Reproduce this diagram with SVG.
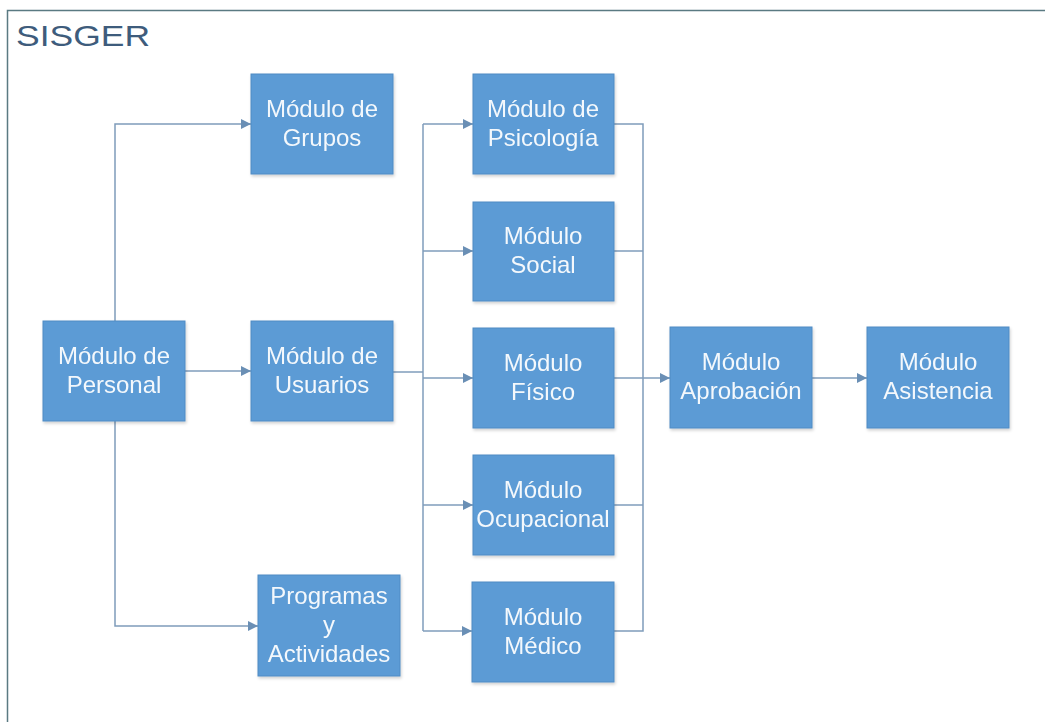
<svg xmlns="http://www.w3.org/2000/svg" width="1045" height="722" viewBox="0 0 1045 722">
<style>
.box{fill:#5b9bd5;stroke:#4f8bc4;stroke-width:1}
.lbl{font-family:"Liberation Sans",Arial,sans-serif;font-size:24px;fill:#f4f8fc;text-anchor:middle}
.ln{fill:none;stroke:#7f9cbb;stroke-width:1.5}
</style>
<defs>
<marker id="ah" viewBox="0 0 10 10" refX="10" refY="5" markerWidth="10" markerHeight="10" markerUnits="userSpaceOnUse" orient="auto">
<path d="M0,0 L10,5 L0,10 z" fill="#6a8fb5"/>
</marker>
<filter id="sh" x="-10%" y="-10%" width="130%" height="130%">
<feDropShadow dx="1" dy="2" stdDeviation="1.5" flood-color="#000" flood-opacity="0.18"/>
</filter>
</defs>
<rect width="1045" height="722" fill="#ffffff"/>
<path d="M7.5,722 V10.5 H1045" fill="none" stroke="#5a7a82" stroke-width="1.5"/>
<text x="16" y="46" font-family="'Liberation Sans',Arial,sans-serif" font-size="30" fill="#3e5c7c" textLength="134" lengthAdjust="spacingAndGlyphs">SISGER</text>
<g id="connectors">
<path class="ln" d="M115,321 V124 H251" marker-end="url(#ah)"/>
<path class="ln" d="M115,421 V626 H258" marker-end="url(#ah)"/>
<path class="ln" d="M185,371 H251" marker-end="url(#ah)"/>
<path class="ln" d="M393,372 H423"/>
<path class="ln" d="M423,124 V631"/>
<path class="ln" d="M423,124 H473" marker-end="url(#ah)"/>
<path class="ln" d="M423,251 H473" marker-end="url(#ah)"/>
<path class="ln" d="M423,378 H473" marker-end="url(#ah)"/>
<path class="ln" d="M423,505 H473" marker-end="url(#ah)"/>
<path class="ln" d="M423,631 H472" marker-end="url(#ah)"/>
<path class="ln" d="M614,124 H643 V631 H614"/>
<path class="ln" d="M614,251 H643"/>
<path class="ln" d="M614,505 H643"/>
<path class="ln" d="M614,378 H670" marker-end="url(#ah)"/>
<path class="ln" d="M812,378 H867" marker-end="url(#ah)"/>
</g>
<g id="n-grupos" filter="url(#sh)"><rect class="box" x="251" y="74" width="142" height="100"/><text class="lbl" x="322" y="117">Módulo de</text><text class="lbl" x="322" y="146">Grupos</text></g>
<g id="n-personal" filter="url(#sh)"><rect class="box" x="43" y="321" width="142" height="100"/><text class="lbl" x="114" y="364">Módulo de</text><text class="lbl" x="114" y="393">Personal</text></g>
<g id="n-usuarios" filter="url(#sh)"><rect class="box" x="251" y="321" width="142" height="100"/><text class="lbl" x="322" y="364">Módulo de</text><text class="lbl" x="322" y="393">Usuarios</text></g>
<g id="n-programas" filter="url(#sh)"><rect class="box" x="258" y="575" width="142" height="101"/><text class="lbl" x="329" y="604">Programas</text><text class="lbl" x="329" y="633">y</text><text class="lbl" x="329" y="662">Actividades</text></g>
<g id="n-psicologia" filter="url(#sh)"><rect class="box" x="473" y="74" width="141" height="100"/><text class="lbl" x="543" y="117">Módulo de</text><text class="lbl" x="543" y="146">Psicología</text></g>
<g id="n-social" filter="url(#sh)"><rect class="box" x="473" y="202" width="141" height="99"/><text class="lbl" x="543" y="244">Módulo</text><text class="lbl" x="543" y="273">Social</text></g>
<g id="n-fisico" filter="url(#sh)"><rect class="box" x="473" y="328" width="141" height="100"/><text class="lbl" x="543" y="371">Módulo</text><text class="lbl" x="543" y="400">Físico</text></g>
<g id="n-ocupacional" filter="url(#sh)"><rect class="box" x="473" y="455" width="141" height="100"/><text class="lbl" x="543" y="498">Módulo</text><text class="lbl" x="543" y="527">Ocupacional</text></g>
<g id="n-medico" filter="url(#sh)"><rect class="box" x="472" y="582" width="142" height="100"/><text class="lbl" x="543" y="625">Módulo</text><text class="lbl" x="543" y="654">Médico</text></g>
<g id="n-aprobacion" filter="url(#sh)"><rect class="box" x="670" y="327" width="142" height="101"/><text class="lbl" x="741" y="370">Módulo</text><text class="lbl" x="741" y="399">Aprobación</text></g>
<g id="n-asistencia" filter="url(#sh)"><rect class="box" x="867" y="327" width="142" height="101"/><text class="lbl" x="938" y="370">Módulo</text><text class="lbl" x="938" y="399">Asistencia</text></g>
</svg>
